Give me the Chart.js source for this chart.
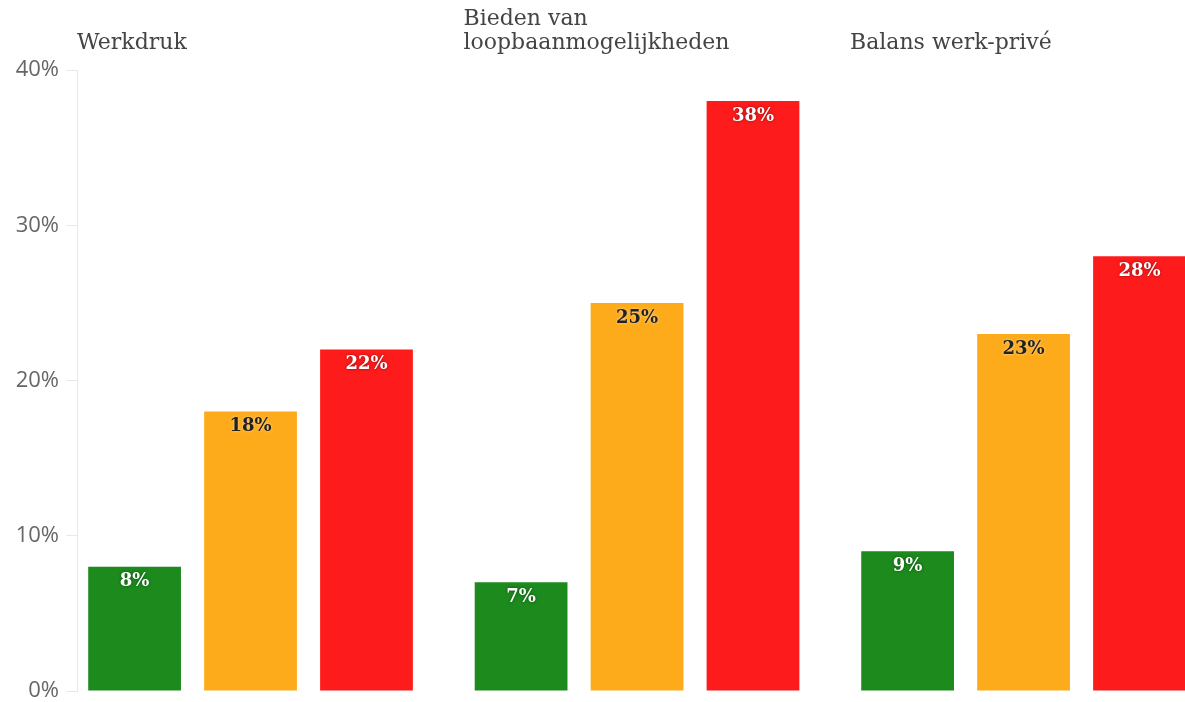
<!DOCTYPE html>
<html>
<head>
<meta charset="utf-8">
<script src="https://cdn.jsdelivr.net/npm/chart.js@4"></script>
<style>
    html, body { margin: 0; padding: 0; background: #fff; overflow: hidden; width: 1185px; height: 702px; }
    canvas { display: block; }
</style>
</head>
<body>
<canvas id="chart" width="1240" height="702"></canvas>
<script>
// each category title, split into its lines
const categories = [["Werkdruk"], ["Bieden van", "loopbaanmogelijkheden"], ["Balans werk-privé"]];
const greenValues = [8, 7, 9];
const orangeValues = [18, 25, 23];
const redValues = [22, 38, 28];
const yTicks = [0, 10, 20, 30, 40];

const X_MIN = -0.449;
const X_MAX = 2.56;

const toPoints = (arr) => arr.map((v, i) => ({ x: i, y: v }));

// titles above each group, left aligned on the group band
const titlePlugin = {
    id: "titles",
    afterDraw(chart) {
        const ctx = chart.ctx;
        const xs = chart.scales.x;
        ctx.save();
        ctx.font = "22px 'DejaVu Serif'";
        ctx.fillStyle = "#444";
        ctx.textAlign = "left";
        ctx.textBaseline = "alphabetic";
        categories.forEach((lines, i) => {
            const left = xs.getPixelForValue(i + X_MIN);
            const last = lines.length - 1;
            lines.forEach((line, j) => {
                ctx.fillText(line, left, 49 - (last - j) * 24);
            });
        });
        ctx.restore();
    }
};

// value labels inside the top of each bar
const valuePlugin = {
    id: "values",
    afterDatasetsDraw(chart) {
        const ctx = chart.ctx;
        ctx.save();
        ctx.font = "bold 18px 'DejaVu Serif'";
        ctx.textAlign = "center";
        ctx.textBaseline = "middle";
        chart.data.datasets.forEach((ds, di) => {
            const meta = chart.getDatasetMeta(di);
            meta.data.forEach((bar, i) => {
                const dark = ds.labelColor !== "#fff";
                ctx.fillStyle = ds.labelColor;
                ctx.shadowColor = dark ? "rgba(255,255,255,0.6)" : "rgba(0,0,0,0.5)";
                ctx.shadowBlur = 3;
                ctx.fillText(ds.data[i].y + "%", bar.x, bar.y + 15);
            });
        });
        ctx.restore();
    }
};

new Chart(document.getElementById("chart"), {
    type: "bar",
    data: {
        datasets: [
            { label: "groen", data: toPoints(greenValues), backgroundColor: "#1d8a1d", labelColor: "#fff" },
            { label: "oranje", data: toPoints(orangeValues), backgroundColor: "#fdab1b", labelColor: "#222" },
            { label: "rood", data: toPoints(redValues), backgroundColor: "#fe1b1c", labelColor: "#fff" }
        ]
    },
    options: {
        responsive: false,
        animation: false,
        categoryPercentage: 0.9,
        barPercentage: 0.8,
        layout: { padding: { top: 70, bottom: 11, left: 0, right: 0 } },
        plugins: { legend: { display: false }, tooltip: { enabled: false } },
        scales: {
            x: {
                type: "linear",
                display: false,
                offset: false,
                grid: { offset: false },
                min: X_MIN,
                max: X_MAX,
                afterBuildTicks: (s) => { s.ticks = categories.map((c, i) => ({ value: i })); }
            },
            y: {
                min: 0,
                max: 40,
                afterBuildTicks: (s) => { s.ticks = yTicks.map(v => ({ value: v })); },
                afterFit: (s) => { s.width = 77; s.paddingTop = 0; s.paddingBottom = 0; },
                border: { color: "#e8e8e8" },
                grid: { drawOnChartArea: false, drawTicks: true, tickLength: 11, color: "#e8e8e8" },
                ticks: {
                    padding: 7,
                    color: "#666",
                    font: { family: "'Open Sans'", size: 22 },
                    callback: (v) => v + "%"
                }
            }
        }
    },
    plugins: [titlePlugin, valuePlugin]
});
</script>
</body>
</html>
